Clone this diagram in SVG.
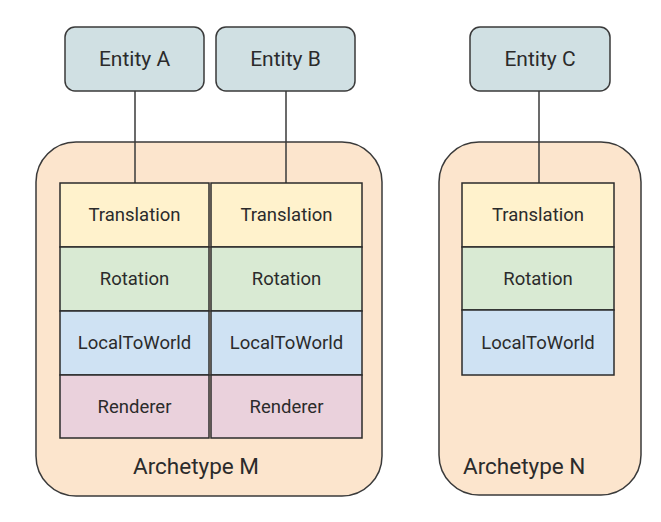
<svg xmlns="http://www.w3.org/2000/svg" width="661" height="522" viewBox="0 0 661 522">
<style>
text{font-family:Roboto,"Noto Sans",sans-serif;fill:#2b2b2b;text-anchor:middle;dominant-baseline:central}
.ent rect{fill:#d0e0e3;stroke:#3a3a3a;stroke-width:1.5}
.ent text{font-size:21px}
.arch>rect{fill:#fce5cd;stroke:#3a3a3a;stroke-width:1.5}
.arch>text{font-size:22.5px;dominant-baseline:alphabetic}
.cell rect{stroke:#2b2b2b;stroke-width:1.5}
.cell text{font-size:18.5px}
.t{fill:#fff2cc}.r{fill:#d9ead3}.l{fill:#cfe2f3}.n{fill:#ead1dc}
.conn line{stroke:#3a3a3a;stroke-width:1.5}
</style>
<rect width="661" height="522" fill="#ffffff"/>
<g id="archetype-m" class="arch">
<rect x="36" y="142" width="346" height="354" rx="40"/>
<text x="196" y="474">Archetype M</text>
</g>
<g id="archetype-n" class="arch">
<rect x="439" y="142" width="202" height="353" rx="40"/>
<text x="463" y="474" style="text-anchor:start">Archetype N</text>
</g>
<g id="connectors" class="conn">
<line x1="135" y1="91" x2="135" y2="183"/>
<line x1="286" y1="91" x2="286" y2="183"/>
<line x1="539" y1="91" x2="539" y2="183"/>
</g>
<g id="entity-a" class="ent"><rect x="65" y="27" width="139" height="64" rx="10"/><text x="134.5" y="59">Entity A</text></g>
<g id="entity-b" class="ent"><rect x="216" y="27" width="139" height="64" rx="10"/><text x="285.5" y="59">Entity B</text></g>
<g id="entity-c" class="ent"><rect x="470" y="27" width="140" height="64" rx="10"/><text x="540" y="59">Entity C</text></g>
<g id="a-components" class="cell">
<rect class="t" x="60" y="183" width="149" height="64"/><text x="134.5" y="215">Translation</text>
<rect class="r" x="60" y="247" width="149" height="64"/><text x="134.5" y="279">Rotation</text>
<rect class="l" x="60" y="311" width="149" height="64"/><text x="134.5" y="343">LocalToWorld</text>
<rect class="n" x="60" y="375" width="149" height="63"/><text x="134.5" y="407">Renderer</text>
</g>
<g id="b-components" class="cell">
<rect class="t" x="211" y="183" width="151" height="64"/><text x="286.5" y="215">Translation</text>
<rect class="r" x="211" y="247" width="151" height="64"/><text x="286.5" y="279">Rotation</text>
<rect class="l" x="211" y="311" width="151" height="64"/><text x="286.5" y="343">LocalToWorld</text>
<rect class="n" x="211" y="375" width="151" height="63"/><text x="286.5" y="407">Renderer</text>
</g>
<g id="c-components" class="cell">
<rect class="t" x="462" y="183" width="152" height="64"/><text x="538" y="215">Translation</text>
<rect class="r" x="462" y="247" width="152" height="63"/><text x="538" y="279">Rotation</text>
<rect class="l" x="462" y="310" width="152" height="65"/><text x="538" y="343">LocalToWorld</text>
</g>
</svg>
